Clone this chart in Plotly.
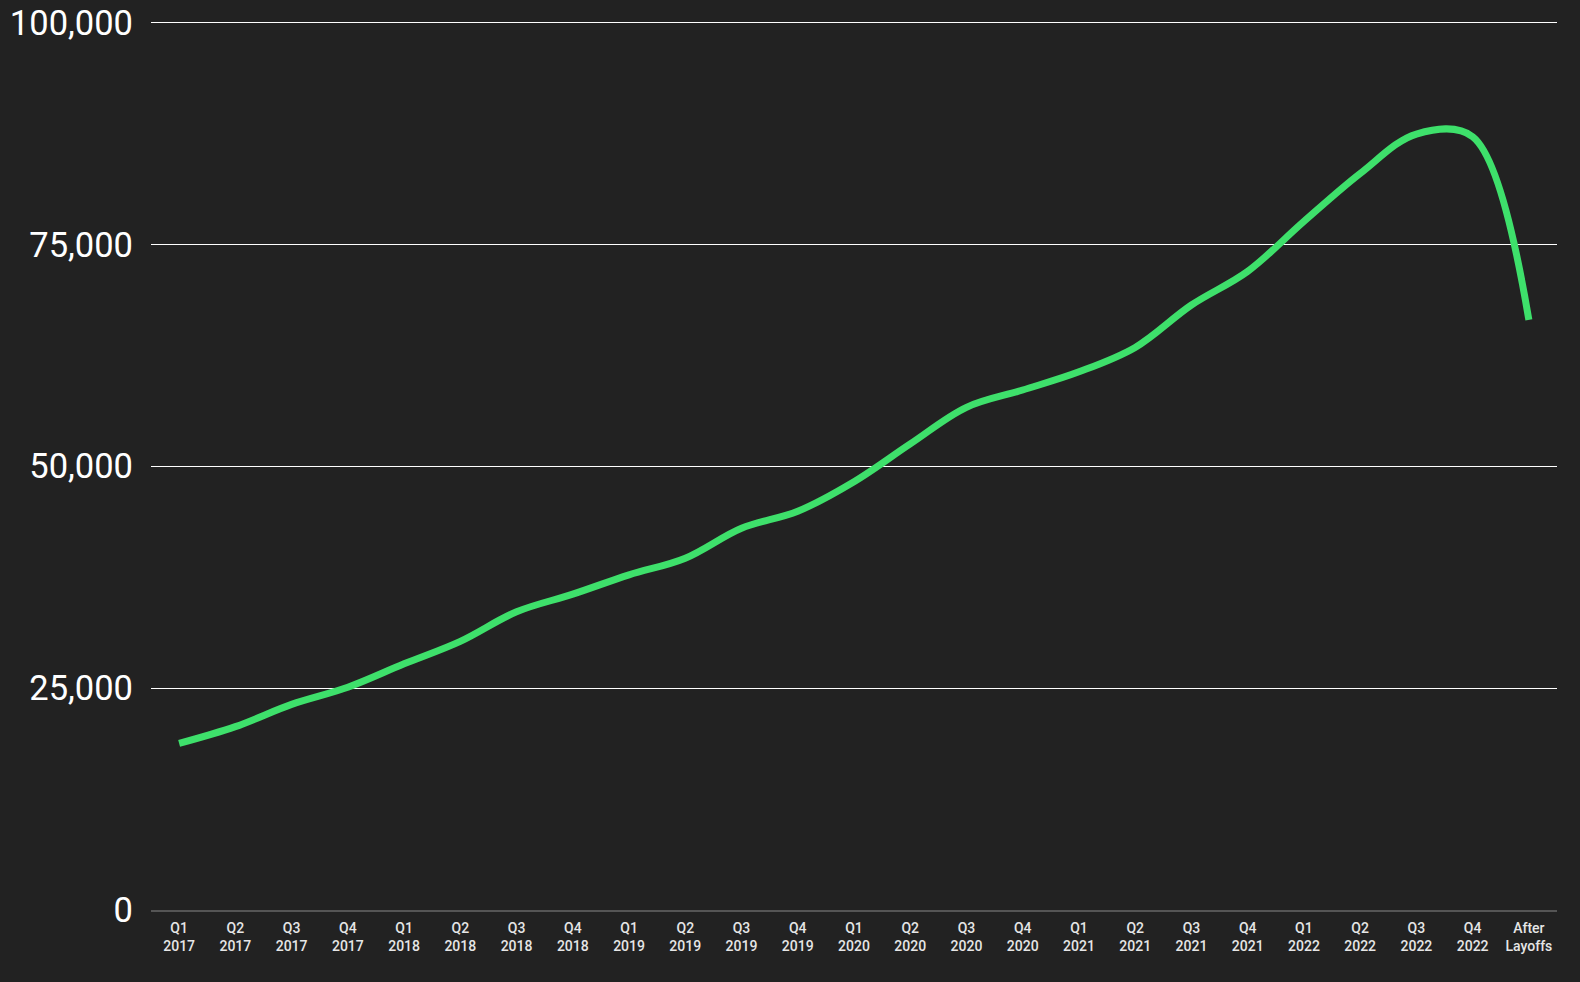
import plotly.graph_objects as go

categories = ["Q1<br>2017", "Q2<br>2017", "Q3<br>2017", "Q4<br>2017",
              "Q1<br>2018", "Q2<br>2018", "Q3<br>2018", "Q4<br>2018",
              "Q1<br>2019", "Q2<br>2019", "Q3<br>2019", "Q4<br>2019",
              "Q1<br>2020", "Q2<br>2020", "Q3<br>2020", "Q4<br>2020",
              "Q1<br>2021", "Q2<br>2021", "Q3<br>2021", "Q4<br>2021",
              "Q1<br>2022", "Q2<br>2022", "Q3<br>2022", "Q4<br>2022",
              "After<br>Layoffs"]
headcount = [18770, 20660, 23170, 25100, 27740, 30280, 33610, 35590,
             37770, 39650, 43030, 44940, 48270, 52530, 56650, 58600,
             60650, 63400, 68180, 71970, 77600, 83000, 87450, 87150,
             66500]
y_ticks = [0, 25000, 50000, 75000, 100000]

fig = go.Figure()
fig.add_trace(go.Scatter(
    x=list(range(len(categories))), y=headcount, mode="lines",
    line=dict(color="#3ee06b", width=7, shape="spline", smoothing=1.0),
    hoverinfo="skip"))

fig.update_layout(
    width=1580, height=982,
    paper_bgcolor="#222222", plot_bgcolor="#222222",
    margin=dict(l=151, r=23, t=20, b=72),
    showlegend=False,
    font=dict(family="Roboto", color="#ffffff"),
)
fig.update_xaxes(
    tickmode="array", tickvals=list(range(len(categories))), ticktext=categories,
    range=[-0.5, len(categories) - 0.5], automargin=False,
    showgrid=False, zeroline=False,
    showline=True, linecolor="#555555", linewidth=2,
    ticks="", ticklabelstandoff=4,
    tickfont=dict(family="Roboto", size=14, color="#e6e6e6", weight=500),
)
fig.update_yaxes(
    range=[0, 100300], tickmode="array", tickvals=y_ticks,
    ticktext=[f"{v:,}" for v in y_ticks], automargin=False,
    showgrid=True, gridcolor="#ffffff", gridwidth=1,
    zeroline=False, showline=False, ticks="",
    ticklabelstandoff=17,
    tickfont=dict(family="Roboto", size=34.5, color="#ffffff"),
)
fig.write_html(
    "out.html",
    config={"displayModeBar": False},
    post_script="document.body.style.margin='0';document.body.style.background='#222222';",
)
